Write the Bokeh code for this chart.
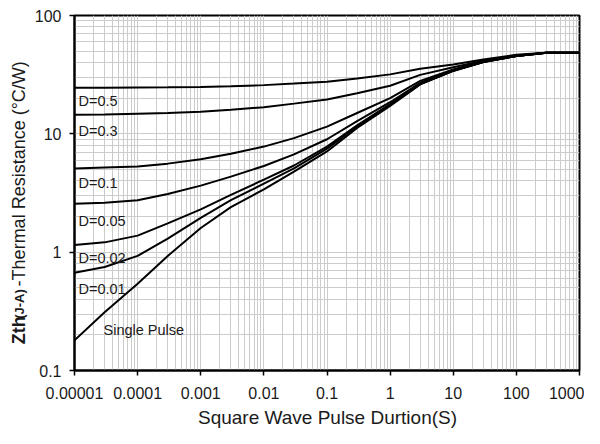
import math
from bokeh.plotting import figure
from bokeh.layouts import row, column
from bokeh.models import Range1d, FixedTicker, ColumnDataSource
from bokeh.core.properties import value
from bokeh.embed import file_html
from bokeh.resources import INLINE

# ---------------- data ----------------
pulse_s = [1e-5, 3e-5, 1e-4, 3e-4, 1e-3, 3e-3, 1e-2, 3e-2, 1e-1, 3e-1, 1, 3, 10, 30, 100, 300, 1000]
zth_d05 = [24.5, 24.5, 24.6, 24.7, 24.9, 25.2, 25.8, 26.6, 27.6, 29.3, 31.8, 35.5, 38.5, 42.5, 46.5, 48.4, 48.4]
zth_d03 = [14.5, 14.6, 14.8, 15.0, 15.4, 16.0, 16.8, 18.0, 19.5, 22.0, 25.5, 31.5, 36.5, 41.5, 46.0, 48.4, 48.4]
zth_d01 = [5.1, 5.2, 5.3, 5.6, 6.1, 6.8, 7.8, 9.2, 11.5, 15.0, 20.0, 28.0, 35.0, 41.0, 45.5, 48.4, 48.4]
zth_d005 = [2.56, 2.62, 2.75, 3.1, 3.65, 4.35, 5.35, 6.7, 9.0, 12.8, 18.5, 27.0, 34.5, 40.7, 45.5, 48.4, 48.4]
zth_d002 = [1.15, 1.21, 1.38, 1.75, 2.3, 3.05, 4.1, 5.4, 7.8, 11.8, 17.8, 26.5, 34.2, 40.5, 45.5, 48.4, 48.4]
zth_d001 = [0.67, 0.75, 0.93, 1.3, 1.95, 2.75, 3.8, 5.1, 7.5, 11.5, 17.5, 26.3, 34.1, 40.5, 45.5, 48.4, 48.4]
zth_single = [0.18, 0.31, 0.54, 0.93, 1.6, 2.4, 3.4, 4.8, 7.1, 11.2, 17.2, 26.2, 34.0, 40.5, 45.5, 48.4, 48.4]

series = [zth_d05, zth_d03, zth_d01, zth_d005, zth_d002, zth_d001, zth_single]
series_labels = ["D=0.5", "D=0.3", "D=0.1", "D=0.05", "D=0.02", "D=0.01", "Single Pulse"]

x_ticks = [1e-5, 1e-4, 1e-3, 1e-2, 1e-1, 1, 10, 100, 1000]
x_tick_labels = ["0.00001", "0.0001", "0.001", "0.01", "0.1", "1", "10", "100", "1000"]
y_ticks = [0.1, 1, 10, 100]
y_tick_labels = ["0.1", "1", "10", "100"]

x_title = "Square Wave Pulse Durtion(S)"
y_title_parts = ["Zth", "(J-A)", "-Thermal Resistance (\u00b0C/W)"]

# ---------------- layout ----------------
TOTAL_W, TOTAL_H = 584, 428
YW = 30                        # strip holding the y title (left)
XH = 22                        # strip holding the x title (bottom)
W = TOTAL_W - YW               # main figure width
H = TOTAL_H - XH               # main figure height
BL, BR, BT, BB = 44, 5, 15, 36
FL, FR, FT, FB = BL, W - BR, BT, H - BB   # frame in main-figure px
XDEC = (FR - FL) / 8.0
YDEC = (FB - FT) / 3.0

def xd(px_page):
    return 10 ** (-5 + (px_page - YW - FL) / XDEC)

def yd(py_page):
    return 10 ** (-1 + (FB - py_page) / YDEC)

FONT = "Liberation Sans"
INK = "#1a1a1a"

p = figure(width=W, height=H, x_axis_type="log", y_axis_type="log",
           x_range=Range1d(1e-5, 1000), y_range=Range1d(0.1, 100),
           output_backend="svg", toolbar_location=None,
           min_border_left=BL, min_border_right=BR, min_border_top=BT, min_border_bottom=BB)

x_minor = [k * 10 ** e for e in range(-5, 3) for k in range(2, 10)]
y_minor = [k * 10 ** e for e in range(-1, 2) for k in range(2, 10)]
p.xaxis.ticker = FixedTicker(ticks=x_ticks, minor_ticks=x_minor)
p.yaxis.ticker = FixedTicker(ticks=y_ticks, minor_ticks=y_minor)
p.xgrid.ticker = FixedTicker(ticks=x_ticks, minor_ticks=x_minor)
p.ygrid.ticker = FixedTicker(ticks=y_ticks, minor_ticks=y_minor)
p.xaxis.major_label_overrides = {t: s for t, s in zip(x_ticks, x_tick_labels)}
p.yaxis.major_label_overrides = {t: s for t, s in zip(y_ticks, y_tick_labels)}

for ax in (p.xaxis, p.yaxis):
    ax.axis_line_color = "black"
    ax.axis_line_width = 2
    ax.major_tick_line_color = "black"
    ax.major_tick_line_width = 1.5
    ax.major_tick_out = 5
    ax.major_tick_in = 0
    ax.minor_tick_out = 0
    ax.minor_tick_in = 0
    ax.major_label_text_font = FONT
    ax.major_label_text_font_size = "16px"
    ax.major_label_text_color = INK
p.xaxis.major_label_standoff = 11
p.yaxis.major_label_standoff = 8

for g in (p.xgrid, p.ygrid):
    g.grid_line_color = "#cccccc"
    g.grid_line_width = 1
    g.minor_grid_line_color = "#cccccc"
    g.minor_grid_line_width = 1

p.outline_line_color = "black"
p.outline_line_width = 2
p.background_fill_color = "white"
p.border_fill_color = "white"

for ys in series:
    p.line(pulse_s, ys, line_color="black", line_width=2)

# curve labels (page px positions: left, baseline)
label_px = [(78, 100), (78, 130), (78, 182), (78, 220), (78, 257), (78, 288), (103, 329)]
src = ColumnDataSource(dict(
    x=[xd(a) for a, b in label_px],
    y=[yd(b) for a, b in label_px],
    t=series_labels))
p.text(x="x", y="y", text="t", source=src, text_font=value(FONT),
       text_font_size="14.5px", text_color=INK,
       text_align="left", text_baseline="alphabetic")

def strip(w, h):
    f = figure(width=w, height=h, x_range=Range1d(0, w), y_range=Range1d(0, h),
               x_axis_location=None, y_axis_location=None, toolbar_location=None,
               output_backend="svg", min_border=0, title=None)
    f.outline_line_color = None
    f.grid.visible = False
    f.background_fill_color = "white"
    f.border_fill_color = "white"
    return f

# ---------------- y title strip (centre of each part, px from top of strip) ----------------
yt = strip(YW, H)
part_style = [(360, "18px", "bold"), (330, "13px", "bold"), (181, "18px", "normal")]
for txt, (cy, size, style) in zip(y_title_parts, part_style):
    yt.text(x=[18.5], y=[H - cy], text=[txt], angle=math.pi / 2,
            text_font=value(FONT), text_font_size=size, text_font_style=style,
            text_color=INK, text_align="center", text_baseline="middle")

# ---------------- x title strip ----------------
xt = strip(TOTAL_W, XH)
xt.text(x=[327], y=[TOTAL_H - 417], text=[x_title],
        text_font=value(FONT), text_font_size="19px", text_color=INK,
        text_align="center", text_baseline="middle")

layout = column(row(yt, p), xt)
open("out.html", "w").write(file_html(layout, INLINE))
